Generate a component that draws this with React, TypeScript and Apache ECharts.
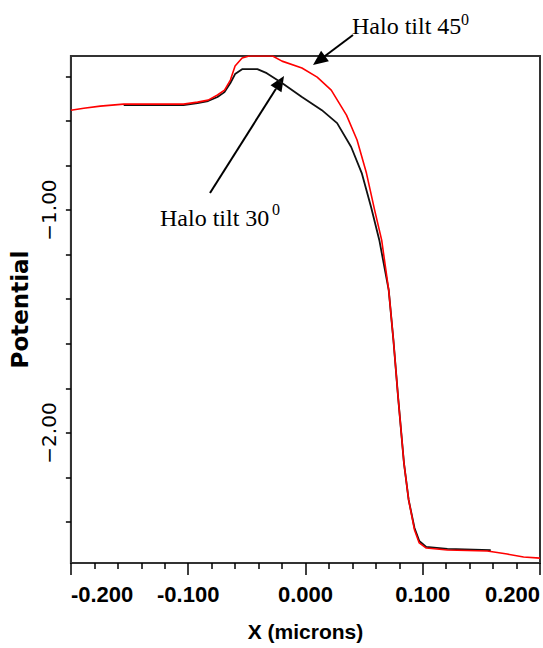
import React, { useEffect, useRef } from "react";
import * as echarts from "echarts";

// X (microns) and potential values
const redX = [-0.2, -0.189, -0.175, -0.155, -0.104, -0.092, -0.083, -0.075, -0.069, -0.064, -0.06, -0.054, -0.048, -0.028, -0.02, -0.003, 0.01, 0.022, 0.035, 0.044, 0.052, 0.059, 0.065, 0.071, 0.075, 0.079, 0.084, 0.088, 0.093, 0.097, 0.103, 0.121, 0.155, 0.172, 0.186, 0.2];
const redY = [-0.552, -0.543, -0.534, -0.525, -0.525, -0.516, -0.507, -0.484, -0.462, -0.417, -0.354, -0.318, -0.309, -0.309, -0.332, -0.363, -0.404, -0.462, -0.574, -0.686, -0.834, -1.0, -1.135, -1.359, -1.583, -1.839, -2.135, -2.3, -2.435, -2.493, -2.516, -2.525, -2.529, -2.543, -2.556, -2.561];

const blackX = [-0.155, -0.104, -0.092, -0.083, -0.075, -0.069, -0.064, -0.06, -0.054, -0.041, -0.033, -0.02, -0.003, 0.014, 0.027, 0.039, 0.048, 0.056, 0.063, 0.071, 0.075, 0.079, 0.084, 0.088, 0.093, 0.097, 0.103, 0.121, 0.158];
const blackY = [-0.529, -0.529, -0.52, -0.511, -0.493, -0.471, -0.43, -0.39, -0.368, -0.368, -0.386, -0.43, -0.493, -0.552, -0.61, -0.717, -0.834, -0.987, -1.135, -1.359, -1.583, -1.839, -2.135, -2.3, -2.426, -2.484, -2.511, -2.52, -2.525];

const yTickValues = [-0.4, -0.6, -0.8, -1.0, -1.2, -1.4, -1.6, -1.8, -2.0, -2.2, -2.4];
const yLabelValues = [-1, -2];

function arrow(x1: number, y1: number, x2: number, y2: number) {
  const dx = x2 - x1, dy = y2 - y1;
  const len = Math.sqrt(dx * dx + dy * dy);
  const ux = dx / len, uy = dy / len;
  const hl = 15, hw = 6.5;
  const bx = x2 - ux * hl, by = y2 - uy * hl;
  const px = -uy, py = ux;
  return [
    { type: "line", shape: { x1, y1, x2: bx, y2: by }, style: { stroke: "#000", lineWidth: 2 } },
    {
      type: "polygon",
      shape: { points: [[x2, y2], [bx + px * hw, by + py * hw], [bx - px * hw, by - py * hw]] },
      style: { fill: "#000" },
    },
  ];
}

export default function App() {
  const ref = useRef<HTMLDivElement>(null);
  useEffect(() => {
    if (!ref.current) return;
    const chart = echarts.init(ref.current, null, { renderer: "svg" });
    const serif = "Liberation Serif, Times New Roman, serif";
    const sans = "Liberation Sans, Arial, sans-serif";
    const ann = (text: string, x: number, y: number, size: number) => ({
      type: "text",
      x,
      y,
      style: { text, fontFamily: serif, fontSize: size, fill: "#000", verticalAlign: "middle" },
    });
    chart.setOption({
      animation: false,
      backgroundColor: "#fff",
      grid: { left: 67, right: 3, top: 56, bottom: 85, show: true, borderColor: "#333", borderWidth: 2 },
      xAxis: {
        type: "value",
        min: -0.2,
        max: 0.2,
        interval: 0.1,
        name: "X (microns)",
        nameLocation: "middle",
        nameGap: 58,
        nameTextStyle: { fontFamily: sans, fontWeight: "bold", fontSize: 21, color: "#000" },
        axisLine: { onZero: false, lineStyle: { color: "#333", width: 2 } },
        axisTick: { length: 12, lineStyle: { color: "#000", width: 1.5 } },
        minorTick: { show: true, splitNumber: 5, length: 6, lineStyle: { color: "#000", width: 1.5 } },
        splitLine: { show: false },
        axisLabel: {
          margin: 20,
          fontFamily: sans,
          fontWeight: "bold",
          fontSize: 22,
          color: "#000",
          alignMinLabel: "left",
          alignMaxLabel: "right",
          formatter: (v: number) => v.toFixed(3),
        },
      },
      yAxis: {
        type: "value",
        min: -2.583,
        max: -0.309,
        name: "Potential",
        nameLocation: "middle",
        nameRotate: 90,
        nameGap: 38,
        nameTextStyle: { fontFamily: "DejaVu Sans, sans-serif", fontWeight: "bold", fontSize: 23, color: "#000" },
        axisLine: { onZero: false, lineStyle: { color: "#333", width: 2 } },
        axisTick: { length: 5, customValues: yTickValues, lineStyle: { color: "#000", width: 1.5 } },
        splitLine: { show: false },
        axisLabel: {
          customValues: yLabelValues,
          rotate: 90,
          margin: 12,
          fontFamily: "DejaVu Sans, sans-serif",
          fontSize: 20,
          color: "#000",
          formatter: (v: number) => (v < 0 ? "\u2212" : "") + Math.abs(v).toFixed(2),
        },
      },
      series: [
        {
          name: "Halo tilt 30",
          type: "line",
          showSymbol: false,
          data: blackX.map((x, i) => [x, blackY[i]]),
          lineStyle: { color: "#111", width: 1.8 },
          z: 2,
        },
        {
          name: "Halo tilt 45",
          type: "line",
          showSymbol: false,
          data: redX.map((x, i) => [x, redY[i]]),
          lineStyle: { color: "#ff0000", width: 1.6 },
          z: 3,
        },
      ],
      graphic: [
        ann("Halo tilt 45", 352, 26, 24),
        ann("0", 461, 19, 16),
        ann("Halo tilt 30", 160, 218, 24),
        ann("0", 272, 209, 16),
        ...arrow(353, 35, 313, 65),
        ...arrow(210, 193, 284, 76),
      ],
    });
    return () => chart.dispose();
  }, []);
  return <div ref={ref} style={{ position: "fixed", left: 0, top: 0, width: 543, height: 648 }} />;
}
